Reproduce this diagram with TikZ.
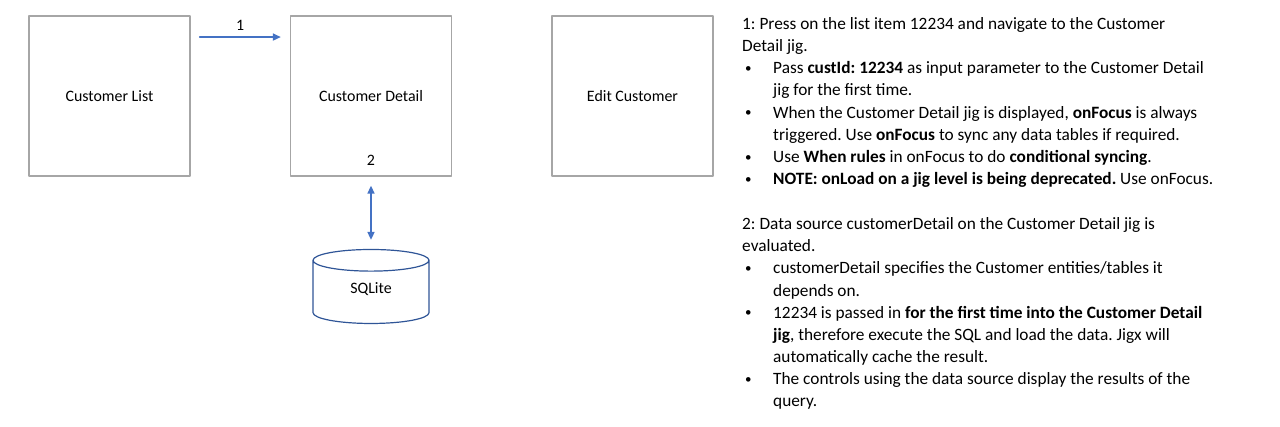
\documentclass[tikz,border=0pt]{standalone}
\usepackage{fontspec}
\setmainfont{Carlito}
\usetikzlibrary{arrows.meta,shapes.geometric}
\definecolor{boxgray}{HTML}{A6A6A6}
\definecolor{flowblue}{HTML}{4472C4}
\definecolor{dbblue}{HTML}{2F5597}
\newcommand{\bul}{\hspace{3pt}\makebox[28pt][l]{\raisebox{1.2pt}{\fontsize{13}{13}\selectfont\textbullet}}}
\newcommand{\ind}{\hspace{31pt}}
\frenchspacing

\begin{document}
\begin{tikzpicture}[x=1pt,y=-1pt, line cap=round,line join=round,
  screen/.style={draw=boxgray, line width=1.3pt, minimum width=161pt, minimum height=160pt, font=\fontsize{15.9}{19}\selectfont},
  flow/.style={draw=flowblue, line width=1.6pt, -{Triangle[length=8pt,width=7pt]}},
  db/.style={cylinder, shape border rotate=90, draw=dbblue, line width=1.2pt, aspect=0.45, minimum width=116pt, minimum height=74pt, text height=8pt, text depth=8pt, font=\fontsize{15.9}{19}\selectfont},
  note/.style={anchor=base west, align=left, inner sep=0pt, font=\fontsize{17.3}{22.2}\selectfont}]
\useasboundingbox (0,0) rectangle (1280,427);
% screens
\node[screen] (list) at (109.5,96) {Customer List};
\node[screen] (detail) at (371,96) {Customer Detail};
\node[screen] (edit) at (632.5,96) {Edit Customer};
\node[font=\fontsize{15.9}{19}\selectfont] (two) at (371,160.5) {2};
% database
\node[db] (sqlite) at (371,294) {SQLite};
% connectors
\draw[flow] ([xshift=9pt,yshift=-21.7pt]list.north east) -- ([xshift=-9pt,yshift=-21.7pt]detail.north west)
  node[midway,above=2.5pt,font=\fontsize{15.9}{19}\selectfont] (one) {1};
\draw[flow,{Triangle[length=8pt,width=7pt]}-{Triangle[length=8pt,width=7pt]}] ([yshift=-9pt]detail.south) -- ([yshift=9pt]sqlite.north);
% notes (anchored at the baseline of their last line)
\node[note] (note1) at (742,184.7) {1: Press on the list item 12234 and navigate to the Customer\\
Detail jig.\\
\bul Pass \textbf{custId: 12234} as input parameter to the Customer Detail\\
\ind jig for the first time.\\
\bul When the Customer Detail jig is displayed, \textbf{onFocus} is always\\
\ind triggered. Use \textbf{onFocus} to sync any data tables if required.\\
\bul Use \textbf{When rules} in onFocus to do \textbf{conditional syncing}.\\
\bul \textbf{NOTE: onLoad on a jig level is being deprecated.} Use onFocus.};
\node[note] (note2) at (742,407) {2: Data source customerDetail on the Customer Detail jig is\\
evaluated.\\
\bul customerDetail specifies the Customer entities/tables it\\
\ind depends on.\\
\bul 12234 is passed in \textbf{for the first time into the Customer Detail}\\
\ind\textbf{jig}, therefore execute the SQL and load the data. Jigx will\\
\ind automatically cache the result.\\
\bul The controls using the data source display the results of the\\
\ind query.};
\end{tikzpicture}
\end{document}
